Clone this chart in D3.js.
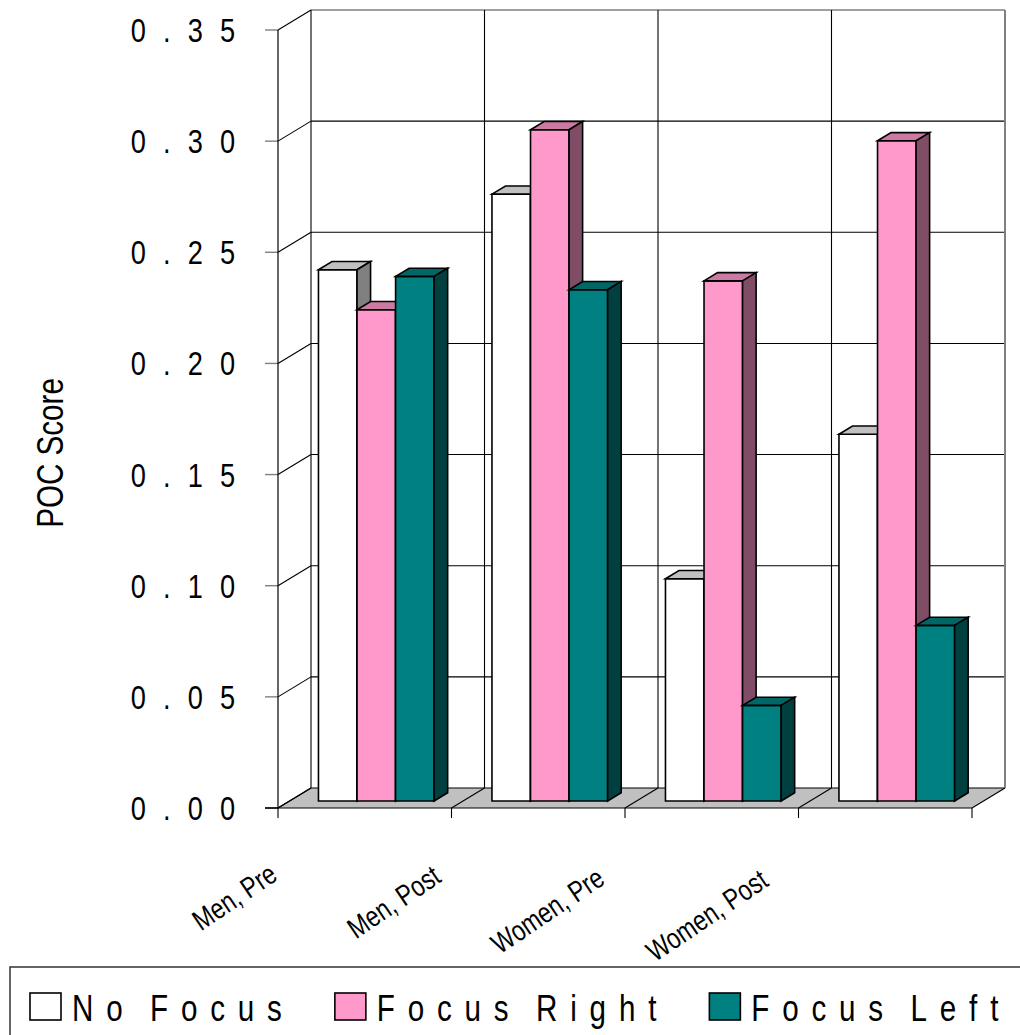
<!DOCTYPE html>
<html>
<head>
<meta charset="utf-8">
<script src="https://cdn.jsdelivr.net/npm/d3@7/dist/d3.min.js"></script>
<style>
  html, body { margin: 0; padding: 0; background: #fff; }
  svg { display: block; }
  text { font-family: "Liberation Sans", Arial, sans-serif; fill: #000; }
</style>
</head>
<body>
<svg id="chart" width="1020" height="1035"></svg>
<script>
// Chart data
const categories = ["Men, Pre", "Men, Post", "Women, Pre", "Women, Post"];
const seriesNames = ["No Focus", "Focus Right", "Focus Left"];
const noFocus    = [0.239, 0.273, 0.100, 0.165];
const focusRight = [0.221, 0.302, 0.234, 0.297];
const focusLeft  = [0.236, 0.230, 0.043, 0.079];
const yTicks = [0, 0.05, 0.10, 0.15, 0.20, 0.25, 0.30, 0.35];

const seriesValues = [noFocus, focusRight, focusLeft];

// Face colours per series: front, top, side
const palette = [
  { front: "#FFFFFF", top: "#C0C0C0", side: "#808080" },
  { front: "#FF99CC", top: "#CC7AA3", side: "#804D66" },
  { front: "#008080", top: "#006666", side: "#004040" }
];

const svg = d3.select("#chart");
const SX = 0.8; // horizontal squeeze of the lettering

// Oblique 3D projection: depth fraction f moves right by DX and up by DY
const DX = 33, DY = 20;
const y = d3.scaleLinear().domain([0, 0.35]).range([808, 30]);
const x0 = d3.scaleBand().domain(categories).range([278, 972]).paddingInner(0).paddingOuter(0);
const x1 = d3.scaleBand().domain(seriesNames).range([0, x0.bandwidth()]).paddingInner(0).paddingOuter(0.75);
const xLeft = x0.range()[0], xRight = x0.range()[1];
const bar0 = 0.35, bar1 = 0.76; // bar depth extent

const P = (xf, v, f) => [xf + f * DX, y(v) - f * DY];
const poly = pts => pts.map(p => p.join(",")).join(" ");

const g = svg.append("g");

// Back wall
g.append("polygon")
  .attr("points", poly([P(xLeft, 0, 1), P(xRight, 0, 1), P(xRight, 0.35, 1), P(xLeft, 0.35, 1)]))
  .attr("fill", "#fff");

// Floor
g.append("polygon")
  .attr("points", poly([P(xLeft, 0, 0), P(xRight, 0, 0), P(xRight, 0, 1), P(xLeft, 0, 1)]))
  .attr("fill", "#C0C0C0");

// Gridlines on back and side walls
yTicks.forEach((t, i) => {
  const top = i === yTicks.length - 1;
  const a = P(xLeft, t, 1), b = P(xRight, t, 1), c = P(xLeft, t, 0);
  g.append("line").attr("x1", a[0]).attr("y1", a[1]).attr("x2", b[0]).attr("y2", b[1])
    .attr("stroke", top ? "#808080" : "#000").attr("stroke-width", top ? 1.6 : 1.1);
  g.append("line").attr("x1", c[0]).attr("y1", c[1]).attr("x2", a[0]).attr("y2", a[1])
    .attr("stroke", "#000").attr("stroke-width", 1.1);
  // tick mark on the value axis
  g.append("line").attr("x1", c[0] - 13).attr("y1", c[1]).attr("x2", c[0]).attr("y2", c[1])
    .attr("stroke", i === 0 ? "#000" : "#808080").attr("stroke-width", 1.4);
});

// Category dividers on the back wall and floor
const bounds = categories.map(c => x0(c)).concat([xRight]);
bounds.forEach((bx, i) => {
  const last = i === bounds.length - 1;
  const a = P(bx, 0, 1), b = P(bx, 0.35, 1), c = P(bx, 0, 0);
  g.append("line").attr("x1", a[0]).attr("y1", a[1]).attr("x2", b[0]).attr("y2", b[1])
    .attr("stroke", last ? "#808080" : "#000").attr("stroke-width", last ? 2 : 1.1);
  g.append("line").attr("x1", c[0]).attr("y1", c[1]).attr("x2", a[0]).attr("y2", a[1])
    .attr("stroke", "#000").attr("stroke-width", 1.1);
  // category tick below the axis
  g.append("line").attr("x1", c[0]).attr("y1", c[1]).attr("x2", c[0]).attr("y2", c[1] + 10)
    .attr("stroke", "#000").attr("stroke-width", 1.1);
});

// Front value axis line and category axis line
{
  const a = P(xLeft, 0, 0), b = P(xLeft, 0.35, 0);
  g.append("line").attr("x1", a[0]).attr("y1", a[1]).attr("x2", b[0]).attr("y2", b[1])
    .attr("stroke", "#000").attr("stroke-width", 1.2);
  const c = P(xRight, 0, 0);
  g.append("line").attr("x1", a[0] - 13).attr("y1", a[1]).attr("x2", c[0]).attr("y2", c[1])
    .attr("stroke", "#000").attr("stroke-width", 1.2);
}

// Bars: front, top and side faces, drawn left to right
const barsG = g.append("g").attr("stroke", "#000").attr("stroke-width", 1.6).attr("stroke-linejoin", "miter");
categories.forEach((cat, ci) => {
  seriesNames.forEach((s, si) => {
    const v = seriesValues[si][ci];
    const xa = x0(cat) + x1(s), xb = xa + x1.bandwidth();
    const col = palette[si];
    barsG.append("polygon")
      .attr("points", poly([P(xa, 0, bar0), P(xb, 0, bar0), P(xb, v, bar0), P(xa, v, bar0)]))
      .attr("fill", col.front);
    barsG.append("polygon")
      .attr("points", poly([P(xa, v, bar0), P(xb, v, bar0), P(xb, v, bar1), P(xa, v, bar1)]))
      .attr("fill", col.top);
    barsG.append("polygon")
      .attr("points", poly([P(xb, 0, bar0), P(xb, 0, bar1), P(xb, v, bar1), P(xb, v, bar0)]))
      .attr("fill", col.side);
  });
});

// Value axis labels
const fmt = d3.format(".2f");
yTicks.forEach(t => {
  svg.append("text")
    .attr("transform", `translate(240,${y(t) + 12}) scale(${SX},1)`)
    .attr("text-anchor", "end")
    .attr("font-size", 34)
    .style("letter-spacing", "6px")
    .text(fmt(t).split("").join(" "));
});

// Value axis title
svg.append("text")
  .attr("transform", `translate(63,453) rotate(-90) scale(${SX},1)`)
  .attr("text-anchor", "middle")
  .attr("font-size", 37)
  .text("POC Score");

// Category labels, slanted
const labelX = d3.scaleLinear().domain([0, categories.length - 1]).range([279, 770]);
categories.forEach((c, i) => {
  svg.append("text")
    .attr("transform", `translate(${labelX(i)},${879 + i * 2}) rotate(-34) scale(${SX},1)`)
    .attr("text-anchor", "end")
    .attr("font-size", 29)
    .text(c);
});

// Legend
const lg = svg.append("g");
lg.append("rect").attr("x", 10).attr("y", 967).attr("width", 1100).attr("height", 200)
  .attr("fill", "#fff").attr("stroke", "#333").attr("stroke-width", 1.5);
let lx = 30;
seriesNames.forEach((s, si) => {
  lg.append("rect").attr("x", lx).attr("y", 993).attr("width", 31).attr("height", 27)
    .attr("fill", palette[si].front).attr("stroke", "#000").attr("stroke-width", 1.6);
  const ls = 16;
  const t = lg.append("text")
    .attr("transform", `translate(${lx + 42},1021) scale(${SX},1)`)
    .attr("font-size", 37)
    .style("letter-spacing", ls + "px")
    .style("word-spacing", "-8px")
    .text(s);
  const w = (t.node().getComputedTextLength() - ls) * SX;
  lx = lx + 42 + w + 53;
});
</script>
</body>
</html>
